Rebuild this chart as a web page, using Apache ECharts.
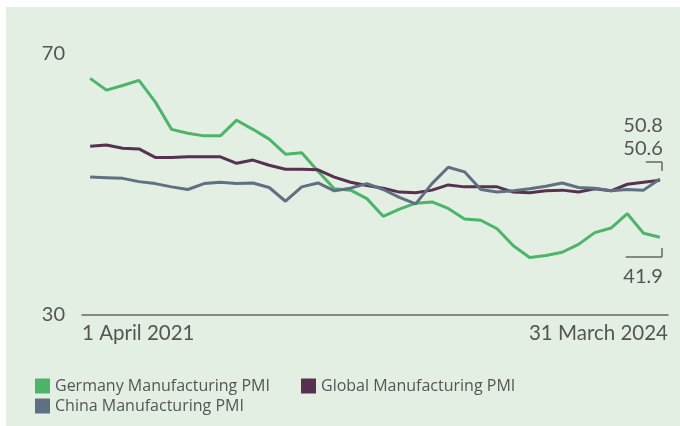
<!DOCTYPE html>
<html>
<head>
<meta charset="utf-8">
<script src="https://cdn.jsdelivr.net/npm/echarts@6/dist/echarts.min.js"></script>
<style>
  html, body { margin:0; padding:0; background:#fff; }
  #chart { position:absolute; left:6px; top:7px; width:674px; height:419px; background:#e3efe2; }
</style>
</head>
<body>
<div id="chart"></div>
<script>
// months Apr 2021 .. Mar 2024
var months = ['2021-04','2021-05','2021-06','2021-07','2021-08','2021-09','2021-10','2021-11','2021-12',
  '2022-01','2022-02','2022-03','2022-04','2022-05','2022-06','2022-07','2022-08','2022-09','2022-10','2022-11','2022-12',
  '2023-01','2023-02','2023-03','2023-04','2023-05','2023-06','2023-07','2023-08','2023-09','2023-10','2023-11','2023-12',
  '2024-01','2024-02','2024-03'];
var germany = [66.2,64.4,65.1,65.9,62.6,58.4,57.8,57.4,57.4,
  59.8,58.4,56.9,54.6,54.8,52.0,49.3,49.1,47.8,45.1,46.2,47.1,
  47.3,46.3,44.7,44.5,43.2,40.6,38.8,39.1,39.6,40.8,42.6,43.3,
  45.5,42.5,41.9];
var global = [55.8,56.0,55.5,55.4,54.1,54.1,54.2,54.2,54.2,
  53.2,53.7,52.9,52.3,52.3,52.2,51.1,50.3,49.8,49.4,48.8,48.7,
  49.1,49.9,49.6,49.6,49.6,48.8,48.7,49.0,49.1,48.8,49.3,49.0,
  50.0,50.3,50.6];
var china = [51.1,51.0,50.9,50.4,50.1,49.6,49.2,50.1,50.3,
  50.1,50.2,49.5,47.4,49.6,50.2,49.0,49.4,50.1,49.2,48.0,47.0,
  50.1,52.6,51.9,49.2,48.8,49.0,49.3,49.7,50.2,49.5,49.4,49.0,
  49.2,49.1,50.8];
var xLabels = ['1 April 2021', '31 March 2024'];
var yTicks = [30, 70];

var names = ['Germany Manufacturing PMI', 'Global Manufacturing PMI', 'China Manufacturing PMI'];
var colors = ['#4cb56a', '#573150', '#5f7082'];
var font = 'Lato';
var legendFont = 'Open Sans';
var textColor = '#555555';

function pairs(arr){ return arr.map(function(v,i){ return [i, v]; }); }
var last = months.length - 1;

function endLbl(dy){
  return {
    show: true,
    formatter: function(p){ return p.value[1].toFixed(1); },
    align: 'right', verticalAlign: 'middle',
    offset: [-5, dy],
    fontSize: 20, fontFamily: font, color: textColor
  };
}
function bracket(x0, x1, yh, yv){
  return {
    silent: true, symbol: 'none',
    lineStyle: { color: '#666', width: 1.5, type: 'solid' },
    label: { show: false },
    data: [
      [{ coord: [x0, yh] }, { coord: [x1, yh] }],
      [{ coord: [x1, yh] }, { coord: [x1, yv] }]
    ]
  };
}
function legendItem(name, left, top){
  return {
    data: [name], left: left, top: top, padding: 0,
    icon: 'rect', itemWidth: 15, itemHeight: 15,
    textStyle: { fontSize: 16, color: textColor, fontFamily: legendFont }
  };
}

var chart = echarts.init(document.getElementById('chart'));
chart.setOption({
  animation: false,
  color: colors,
  textStyle: { fontFamily: font },
  grid: { left: 76, right: 12, top: 46.5, bottom: 111 },
  legend: [legendItem(names[0], 29, 371), legendItem(names[1], 295, 371), legendItem(names[2], 29, 391)],
  xAxis: {
    type: 'value', min: -0.5, max: last + 0.5,
    axisLine: { show: true, lineStyle: { color: '#666', width: 1.5 } },
    axisTick: { show: false },
    splitLine: { show: false },
    axisLabel: {
      customValues: [-0.5, last + 0.5],
      formatter: function(v){ return v < 0 ? xLabels[0] : xLabels[1]; },
      alignMinLabel: 'left', alignMaxLabel: 'right',
      margin: 8, fontSize: 20.5, color: textColor, fontFamily: font
    }
  },
  yAxis: {
    type: 'value', min: yTicks[0], max: yTicks[1], interval: yTicks[1] - yTicks[0],
    axisLine: { show: false }, axisTick: { show: false }, splitLine: { show: false },
    axisLabel: { margin: 17, fontSize: 20, color: textColor, fontFamily: font }
  },
  series: [{
    name: names[0], type: 'line', data: pairs(germany), symbol: 'none',
    lineStyle: { width: 3, color: colors[0] },
    endLabel: endLbl(39),
    markLine: bracket(last - 2.1, last + 0.13, 38.88, 40.26)
  }, {
    name: names[1], type: 'line', data: pairs(global), symbol: 'none',
    lineStyle: { width: 3, color: colors[1] },
    endLabel: endLbl(-32)
  }, {
    name: names[2], type: 'line', data: pairs(china), symbol: 'none',
    lineStyle: { width: 3, color: colors[2] },
    endLabel: endLbl(-53),
    markLine: bracket(last - 0.86, last + 0.13, 53.41, 52.03)
  }]
});
</script>
</body>
</html>
